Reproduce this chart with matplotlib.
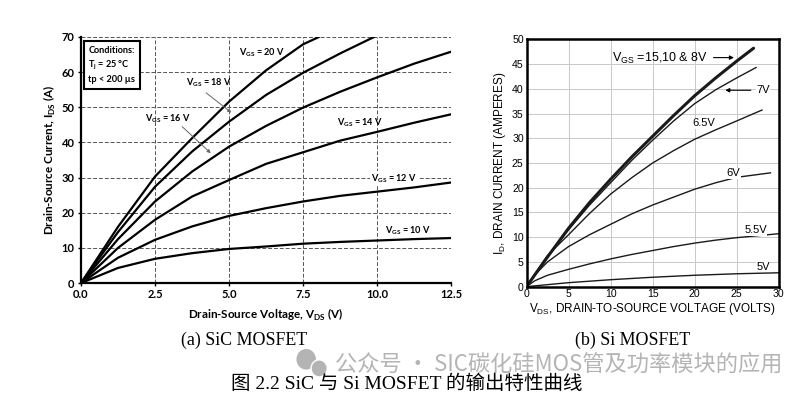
import matplotlib
matplotlib.use("Agg")
from matplotlib import pyplot as plt
from matplotlib.patches import Ellipse

plt.rcParams["mathtext.fontset"] = "custom"
plt.rcParams["mathtext.rm"] = "Liberation Sans"
plt.rcParams["mathtext.bf"] = "Lato:bold"

# (a) SiC MOSFET curves
sic_vds = [0, 1.25, 2.5, 3.75, 5, 6.25, 7.5, 8.75, 10, 11.25, 12.5]
sic_10v = [0, 4.3, 6.9, 8.5, 9.7, 10.4, 11.2, 11.7, 12.1, 12.5, 12.8]
sic_12v = [0, 7.2, 12.3, 16.1, 19.1, 21.3, 23.2, 24.8, 26.0, 27.2, 28.6]
sic_14v = [0, 10.0, 18.0, 24.6, 29.3, 33.9, 37.2, 40.5, 43.0, 45.6, 48.0]
sic_16v = [0, 12.5, 23.2, 31.7, 38.8, 44.7, 49.9, 54.4, 58.5, 62.4, 65.8]
sic_18v_vds = [0, 1.25, 2.5, 3.75, 5, 6.25, 7.5, 8.75, 9.9]
sic_18v = [0, 14.5, 27.4, 37.4, 45.9, 53.5, 59.8, 65.3, 70]
sic_20v_vds = [0, 1.25, 2.5, 3.75, 5, 6.25, 7.5, 8.04]
sic_20v = [0, 16.0, 30.3, 41.2, 51.6, 60.5, 67.9, 70]

# (b) Si MOSFET curves
si_8v_vds = [0, 2.5, 5, 7.5, 10, 12.5, 15, 17.5, 20, 22.5, 25, 27]
si_8v = [0, 6.0, 11.8, 17.0, 21.7, 26.2, 30.4, 34.6, 38.6, 42.2, 45.6, 48.2]
si_7v_vds = [0, 2.5, 5, 7.5, 10, 12.5, 15, 17.5, 20, 22.5, 25, 27.3]
si_7v = [0, 6.0, 11.5, 16.5, 21.0, 25.5, 29.6, 33.5, 37.0, 39.8, 42.2, 44.3]
si_65v_vds = [0, 1, 2.5, 5, 7.5, 10, 12.5, 15, 17.5, 20, 22.5, 25, 28]
si_65v = [0, 2.6, 6.3, 10.5, 14.8, 18.7, 22.0, 25.0, 27.5, 29.8, 31.7, 33.5, 35.7]
si_6v_vds = [0, 1, 2.5, 5, 7.5, 10, 12.5, 15, 17.5, 20, 22.5, 25, 29]
si_6v = [0, 2.4, 5.0, 8.1, 10.5, 12.6, 14.7, 16.5, 18.1, 19.7, 21.0, 22.1, 23.0]
si_55v_vds = [0, 1, 2.5, 5, 7.5, 10, 12.5, 15, 17.5, 20, 22.5, 25, 27.5, 30]
si_55v = [0, 1.2, 2.3, 3.5, 4.6, 5.6, 6.5, 7.3, 8.1, 8.8, 9.4, 9.9, 10.3, 10.7]
si_5v_vds = [0, 2.5, 5, 10, 15, 20, 25, 30]
si_5v = [0, 0.4, 0.8, 1.4, 1.9, 2.3, 2.6, 2.8]

fig = plt.figure(figsize=(8.1, 3.97), dpi=100)

# ---- left: SiC ----
ax1 = fig.add_axes([0.1, 0.287, 0.457, 0.62])
for x, y in [(sic_vds, sic_10v), (sic_vds, sic_12v), (sic_vds, sic_14v), (sic_vds, sic_16v),
             (sic_18v_vds, sic_18v), (sic_20v_vds, sic_20v)]:
    ax1.plot(x, y, color="black", lw=1.6, solid_capstyle="round")
ax1.set_xlim(0, 12.5)
ax1.set_ylim(0, 70)
ax1.set_xticks([0, 2.5, 5, 7.5, 10, 12.5])
ax1.set_xticklabels(["0.0", "2.5", "5.0", "7.5", "10.0", "12.5"])
ax1.set_yticks(range(0, 71, 10))
ax1.grid(True, color="#555555", linestyle=(0, (4, 2)), lw=0.7)
for s in ["top", "right"]:
    ax1.spines[s].set_visible(False)
for s in ["left", "bottom"]:
    ax1.spines[s].set_linewidth(1.6)
ax1.tick_params(length=2.5, width=1, labelsize=8, pad=2)
for lab in ax1.get_xticklabels() + ax1.get_yticklabels():
    lab.set_fontfamily("Lato")
    lab.set_fontweight("bold")
ax1.set_xlabel(r"Drain-Source Voltage, V$_{\mathbf{DS}}$ (V)", family="Lato", weight="bold",
               fontsize=8.4, labelpad=5)
ax1.set_ylabel(r"Drain-Source Current, I$_{\mathbf{DS}}$ (A)", family="Lato", weight="bold",
               fontsize=8.4, labelpad=3)

lab_kw = dict(family="Lato", weight="bold", fontsize=6.6, va="center")
ax1.text(0.25, 67.4, "Conditions:\n" + r"T$_{\mathbf{j}}$ = 25 °C" + "\ntp < 200 µs",
         va="top", ha="left", family="Lato", weight="bold", fontsize=6.6, linespacing=1.45,
         bbox=dict(boxstyle="square,pad=0.5", fc="white", ec="black", lw=1.5), zorder=5)
ax1.text(5.35, 65.5, r"V$_{\mathbf{GS}}$ = 20 V", **lab_kw)
ax1.text(3.55, 56.9, r"V$_{\mathbf{GS}}$ = 18 V", **lab_kw)
ax1.text(2.15, 46.8, r"V$_{\mathbf{GS}}$ = 16 V", **lab_kw)
ax1.text(8.65, 45.5, r"V$_{\mathbf{GS}}$ = 14 V", **lab_kw)
ax1.text(9.8, 29.8, r"V$_{\mathbf{GS}}$ = 12 V",
         bbox=dict(fc="white", ec="none", pad=0.5), **lab_kw)
ax1.text(10.25, 14.9, r"V$_{\mathbf{GS}}$ = 10 V", **lab_kw)
arrow_grey = dict(arrowstyle="-|>", color="#666666", lw=0.7, mutation_scale=5)
ax1.annotate("", xy=(5.15, 48.0), xytext=(4.15, 54.6), arrowprops=arrow_grey)
ax1.annotate("", xy=(4.45, 36.4), xytext=(3.35, 45.0), arrowprops=arrow_grey)

# ---- right: Si ----
ax2 = fig.add_axes([0.650, 0.278, 0.3115, 0.623])
ax2.plot(si_8v_vds, si_8v, color="#1a1a1a", lw=2.2, solid_capstyle="round")
for x, y in [(si_7v_vds, si_7v), (si_65v_vds, si_65v), (si_6v_vds, si_6v),
             (si_55v_vds, si_55v), (si_5v_vds, si_5v)]:
    ax2.plot(x, y, color="#1a1a1a", lw=1.0)
ax2.set_xlim(0, 30)
ax2.set_ylim(0, 50)
ax2.set_xticks(range(0, 31, 5))
ax2.set_yticks(range(0, 51, 5))
ax2.grid(True, color="#c8c8c8", lw=0.7)
for s in ax2.spines.values():
    s.set_linewidth(1.8)
ax2.tick_params(length=0, labelsize=7.6, pad=2)
for lab in ax2.get_xticklabels() + ax2.get_yticklabels():
    lab.set_fontfamily("Liberation Sans")
ax2.set_xlabel(r"V$_{\mathrm{DS}}$, DRAIN-TO-SOURCE VOLTAGE (VOLTS)", family="Liberation Sans",
               fontsize=8.5, labelpad=1)
ax2.set_ylabel(r"I$_{\mathrm{D}}$, DRAIN CURRENT (AMPERES)", family="Liberation Sans",
               fontsize=8.5, labelpad=3)

si_kw = dict(family="Liberation Sans", fontsize=8, va="center",
             bbox=dict(fc="white", ec="none", pad=0.3))
ax2.text(10.2, 46.2, r"V$_{\mathrm{GS}}$ =15,10 & 8V", fontsize=9, family="Liberation Sans",
         va="center")
ax2.text(27.3, 39.7, "7V", **si_kw)
ax2.text(19.7, 33.0, "6.5V", **si_kw)
ax2.text(23.8, 22.9, "6V", **si_kw)
ax2.text(25.9, 11.4, "5.5V", **si_kw)
ax2.text(27.3, 4.0, "5V", **si_kw)
arrow_black = dict(arrowstyle="-|>", color="black", lw=0.8, mutation_scale=6)
ax2.annotate("", xy=(25.0, 46.3), xytext=(21.9, 46.3), arrowprops=arrow_black)
ax2.annotate("", xy=(23.3, 39.7), xytext=(27.0, 39.7), arrowprops=arrow_black)

# ---- captions ----
fig.text(0.224, 0.143, "(a) SiC MOSFET", family="Liberation Serif", fontsize=12.9, va="center")
fig.text(0.710, 0.143, "(b) Si MOSFET", family="Liberation Serif", fontsize=12.9, va="center")
fig.text(0.414, 0.083, "公众号 · SIC碳化硅MOS管及功率模块的应用", family="Noto Sans CJK SC",
         fontsize=16, color="#b4b4b4", va="center")
fig.patches.append(Ellipse((0.378, 0.095), 0.024, 0.052, transform=fig.transFigure,
                           fc="#b4b4b4", ec="none"))
fig.patches.append(Ellipse((0.394, 0.072), 0.02, 0.043, transform=fig.transFigure,
                           fc="#b4b4b4", ec="white", lw=1))
fig.text(0.285, 0.033, "图 2.2 SiC 与 Si MOSFET 的输出特性曲线",
         family=["Liberation Serif", "Noto Sans CJK SC"], fontsize=14, va="center")

fig.savefig("out.png", dpi=100)
